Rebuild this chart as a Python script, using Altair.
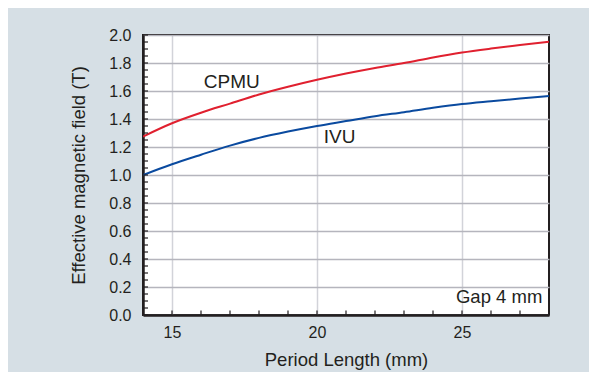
import altair as alt
import pandas as pd

period = [14, 15, 16, 17, 18, 19, 20, 21, 22, 23, 24, 25, 26, 27, 28]
cpmu = [1.275, 1.37, 1.445, 1.51, 1.575, 1.63, 1.68, 1.725, 1.765, 1.80, 1.84, 1.875, 1.903, 1.928, 1.952]
ivu = [1.0, 1.077, 1.145, 1.21, 1.265, 1.31, 1.35, 1.385, 1.42, 1.449, 1.48, 1.507, 1.527, 1.546, 1.564]

x_ticks = [15, 20, 25]
y_ticks = [0.0, 0.2, 0.4, 0.6, 0.8, 1.0, 1.2, 1.4, 1.6, 1.8, 2.0]
x_minor = list(range(14, 29))
y_minor = [round(i * 0.05, 2) for i in range(0, 41)]

label_text = ["CPMU", "IVU"]
label_x = [17.06, 20.78]
label_y = [1.625, 1.226]

FONT = "Liberation Sans"
TXT = "#231f20"
W, H = 406, 280

df = pd.DataFrame({
    "period": period * 2,
    "field": cpmu + ivu,
    "type": ["CPMU"] * len(period) + ["IVU"] * len(period),
})

xs = alt.Scale(domain=[14, 28], nice=False, zero=False)
ys = alt.Scale(domain=[0, 2.0], nice=False)

xaxis = alt.Axis(values=x_ticks, title="Period Length (mm)",
                 grid=True, gridColor="#d2d3d9", gridWidth=1.5,
                 domain=True, domainColor=TXT, domainWidth=2.5,
                 tickSize=0, labelPadding=9, labelOverlap=False,
                 labelFont=FONT, labelFontSize=16, labelColor=TXT,
                 titleFont=FONT, titleFontSize=18.5, titleColor=TXT,
                 titleFontWeight="normal",
                 titleBaseline="alphabetic", titleY=50)
yaxis = alt.Axis(values=y_ticks, format=".1f",
                 title="Effective magnetic field (T)",
                 grid=True, gridColor="#b5b5bd", gridWidth=1.5,
                 domain=True, domainColor=TXT, domainWidth=2.5,
                 tickSize=0, labelPadding=12, labelOverlap=False,
                 labelFont=FONT, labelFontSize=16, labelColor=TXT,
                 titleFont=FONT, titleFontSize=18.5, titleColor=TXT,
                 titleFontWeight="normal",
                 titleBaseline="alphabetic", titleX=-59)

lines = alt.Chart(df).mark_line(strokeWidth=2, interpolate="monotone", clip=True).encode(
    x=alt.X("period:Q", scale=xs, axis=xaxis),
    y=alt.Y("field:Q", scale=ys, axis=yaxis),
    color=alt.Color("type:N", scale=alt.Scale(domain=["CPMU", "IVU"], range=["#e0202f", "#0a4a9f"]),
                    legend=None),
)

xt = alt.Chart(pd.DataFrame({"t": x_minor})).mark_rule(color=TXT, strokeWidth=1.2).encode(
    x=alt.X("t:Q", scale=xs, axis=xaxis), y=alt.value(H), y2=alt.value(H - 4.5))
yt = alt.Chart(pd.DataFrame({"t": y_minor})).mark_rule(color=TXT, strokeWidth=1.2).encode(
    y=alt.Y("t:Q", scale=ys, axis=yaxis), x=alt.value(0), x2=alt.value(5))

labels = alt.Chart(pd.DataFrame({"x": label_x, "y": label_y, "t": label_text})).mark_text(
    font=FONT, fontSize=19, color=TXT, align="center", baseline="alphabetic").encode(
    x=alt.X("x:Q", scale=xs, axis=xaxis), y=alt.Y("y:Q", scale=ys, axis=yaxis), text="t:N")

gap = alt.Chart(pd.DataFrame({"x": [27.77], "y": [0.084], "t": ["Gap 4 mm"]})).mark_text(
    font=FONT, fontSize=18.5, color=TXT, align="right", baseline="alphabetic").encode(
    x=alt.X("x:Q", scale=xs, axis=xaxis), y=alt.Y("y:Q", scale=ys, axis=yaxis), text="t:N")

chart = alt.layer(lines, xt, yt, labels, gap).properties(
    width=W, height=H,
    background="#d6dfe5",
    padding={"left": 135, "top": 27, "right": 40, "bottom": 57},
    autosize=alt.AutoSizeParams(type="none"),
).configure_view(
    fill="white", stroke=TXT, strokeWidth=2
)

chart.save("out.html", embed_options={"renderer": "svg", "actions": False})
